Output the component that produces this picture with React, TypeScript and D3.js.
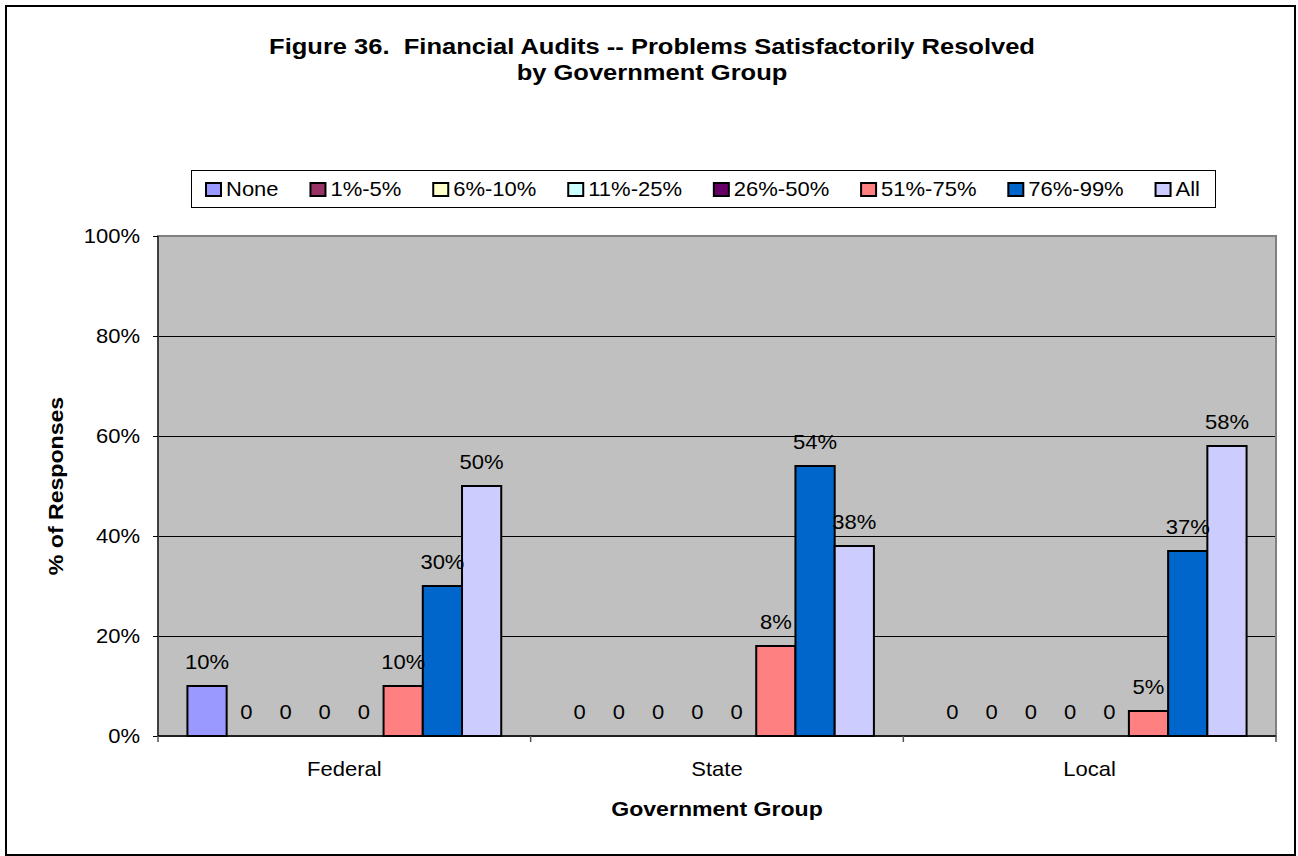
import React, { useEffect, useRef } from "react";
import * as d3 from "d3";

const titleLines = [
  "Figure 36.  Financial Audits -- Problems Satisfactorily Resolved",
  "by Government Group",
];
const categories = ["Federal", "State", "Local"];
const seriesNames = ["None", "1%-5%", "6%-10%", "11%-25%", "26%-50%", "51%-75%", "76%-99%", "All"];
const seriesColors = ["#9999FF", "#993366", "#FFFFCC", "#CCFFFF", "#660066", "#FF8080", "#0066CC", "#CCCCFF"];
const federalValues = [10, 0, 0, 0, 0, 10, 30, 50];
const stateValues = [0, 0, 0, 0, 0, 18, 54, 38];
const localValues = [0, 0, 0, 0, 0, 5, 37, 58];
const federalLabels = ["10%", "0", "0", "0", "0", "10%", "30%", "50%"];
const stateLabels = ["0", "0", "0", "0", "0", "8%", "54%", "38%"];
const localLabels = ["0", "0", "0", "0", "0", "5%", "37%", "58%"];
const yTicks = [0, 20, 40, 60, 80, 100];
const yAxisTitle = "% of Responses";
const xAxisTitle = "Government Group";

const FONT = "'Liberation Sans', Arial, Helvetica, sans-serif";
const W = 1298;
const H = 856;

export default function App() {
  const ref = useRef<SVGSVGElement | null>(null);

  useEffect(() => {
    const svg = d3.select(ref.current);
    svg.selectAll("*").remove();

    const valuesByCat = [federalValues, stateValues, localValues];
    const labelsByCat = [federalLabels, stateLabels, localLabels];

    const plot = { left: 158, right: 1276, top: 236, bottom: 736 };
    const SX = 1.1;

    const txt = (
      g: any,
      s: string,
      x: number,
      y: number,
      o: { size?: number; bold?: boolean; anchor?: string; sx?: number; rotate?: number } = {}
    ) => {
      const { size = 20, bold = false, anchor = "middle", sx = SX, rotate } = o;
      return g
        .append("text")
        .attr(
          "transform",
          `translate(${x},${y})${rotate !== undefined ? ` rotate(${rotate})` : ""} scale(${sx},1)`
        )
        .attr("text-anchor", anchor)
        .attr("font-family", FONT)
        .attr("font-size", size)
        .attr("font-weight", bold ? "bold" : "normal")
        .attr("fill", "#000")
        .style("white-space", "pre")
        .text(s);
    };

    // Background + outer border
    svg.append("rect").attr("x", 0).attr("y", 0).attr("width", W).attr("height", H).attr("fill", "#fff");
    svg
      .append("rect")
      .attr("x", 6)
      .attr("y", 6)
      .attr("width", 1289)
      .attr("height", 849)
      .attr("fill", "#fff")
      .attr("stroke", "#000")
      .attr("stroke-width", 2);

    // Title
    const titleCx = 652;
    txt(svg, titleLines[0], titleCx, 54, { size: 22, bold: true, sx: 1.16 });
    txt(svg, titleLines[1], titleCx, 80, { size: 22, bold: true, sx: 1.16 });

    // Scales
    const x0 = d3.scaleBand<string>().domain(categories).range([plot.left, plot.right]).padding(0);
    const cw = x0.bandwidth();
    const gapHalf = (cw * 0.75) / 9.5;
    const x1 = d3.scaleBand<string>().domain(seriesNames).range([gapHalf, cw - gapHalf]).padding(0);
    const y = d3.scaleLinear().domain([0, 100]).range([plot.bottom, plot.top]);

    // Plot background
    svg
      .append("rect")
      .attr("x", plot.left)
      .attr("y", plot.top)
      .attr("width", plot.right - plot.left)
      .attr("height", plot.bottom - plot.top)
      .attr("fill", "#C0C0C0");

    // Gridlines
    svg
      .append("g")
      .selectAll("line")
      .data(yTicks.filter((t) => t > 0 && t < 100))
      .join("line")
      .attr("x1", plot.left)
      .attr("x2", plot.right)
      .attr("y1", (d) => Math.round(y(d)) + 0.5)
      .attr("y2", (d) => Math.round(y(d)) + 0.5)
      .attr("stroke", "#000")
      .attr("stroke-width", 1);

    // Plot border (gray)
    svg
      .append("rect")
      .attr("x", plot.left)
      .attr("y", plot.top)
      .attr("width", plot.right - plot.left)
      .attr("height", plot.bottom - plot.top)
      .attr("fill", "none")
      .attr("stroke", "#808080")
      .attr("stroke-width", 2);

    // Bars
    const barData: { cat: string; si: number; v: number; label: string }[] = [];
    categories.forEach((c, ci) => {
      seriesNames.forEach((s, si) => {
        barData.push({ cat: c, si, v: valuesByCat[ci][si], label: labelsByCat[ci][si] });
      });
    });

    svg
      .append("g")
      .selectAll("rect")
      .data(barData.filter((d) => d.v > 0))
      .join("rect")
      .attr("x", (d) => (x0(d.cat) as number) + (x1(seriesNames[d.si]) as number))
      .attr("y", (d) => y(d.v))
      .attr("width", x1.bandwidth())
      .attr("height", (d) => y(0) - y(d.v))
      .attr("fill", (d) => seriesColors[d.si])
      .attr("stroke", "#000")
      .attr("stroke-width", 2);

    // Axes lines
    svg
      .append("line")
      .attr("x1", plot.left)
      .attr("x2", plot.left)
      .attr("y1", plot.top)
      .attr("y2", plot.bottom)
      .attr("stroke", "#000")
      .attr("stroke-width", 1);
    svg
      .append("line")
      .attr("x1", plot.left)
      .attr("x2", plot.right)
      .attr("y1", plot.bottom)
      .attr("y2", plot.bottom)
      .attr("stroke", "#000")
      .attr("stroke-width", 1.5);

    // Y ticks + labels
    yTicks.forEach((t) => {
      const yy = Math.round(y(t)) + 0.5;
      svg
        .append("line")
        .attr("x1", plot.left - 5)
        .attr("x2", plot.left)
        .attr("y1", yy)
        .attr("y2", yy)
        .attr("stroke", "#000");
      txt(svg, `${t}%`, 140, y(t) + 7, { anchor: "end" });
    });

    // X ticks (category boundaries)
    const bounds = [...categories.map((c) => x0(c) as number), plot.right];
    bounds.forEach((bx) => {
      svg
        .append("line")
        .attr("x1", bx)
        .attr("x2", bx)
        .attr("y1", plot.bottom)
        .attr("y2", plot.bottom + 6)
        .attr("stroke", "#555")
        .attr("stroke-width", 1.5);
    });

    // Category labels
    categories.forEach((c) => {
      txt(svg, c, (x0(c) as number) + cw / 2, 776);
    });

    // Data labels
    barData.forEach((d) => {
      const cx = (x0(d.cat) as number) + (x1(seriesNames[d.si]) as number) + x1.bandwidth() / 2;
      txt(svg, d.label, cx, y(d.v) - 17);
    });

    // Axis titles
    txt(svg, xAxisTitle, (plot.left + plot.right) / 2, 816, { size: 21, bold: true, sx: 1.1 });
    txt(svg, yAxisTitle, 63, (plot.top + plot.bottom) / 2, { size: 21, bold: true, sx: 1.1, rotate: -90 });

    // Legend
    const box = { x: 191, y: 170, w: 1024, h: 37 };
    const lg = svg.append("g");
    lg.append("rect")
      .attr("x", box.x + 0.5)
      .attr("y", box.y + 0.5)
      .attr("width", box.w)
      .attr("height", box.h)
      .attr("fill", "#fff")
      .attr("stroke", "#000")
      .attr("stroke-width", 1);
    const swW = 15;
    const swH = 13;
    const textOff = 20;
    const items = seriesNames.map((s, i) => {
      const t = txt(lg, s, 0, 196, { anchor: "start" });
      const w = (t.node() as SVGTextElement).getComputedTextLength() * SX;
      return { t, w, i };
    });
    const pad = 15;
    const total = items.reduce((a, it) => a + textOff + it.w, 0);
    const gap = (box.w - 2 * pad - total) / (items.length - 1);
    let cx = box.x + pad;
    items.forEach((it) => {
      lg.append("rect")
        .attr("x", cx)
        .attr("y", 183)
        .attr("width", swW)
        .attr("height", swH)
        .attr("fill", seriesColors[it.i])
        .attr("stroke", "#000")
        .attr("stroke-width", 2);
      it.t.attr("transform", `translate(${cx + textOff},196) scale(${SX},1)`);
      cx += textOff + it.w + gap;
    });
  }, []);

  return (
    <svg
      ref={ref}
      width={W}
      height={H}
      style={{ position: "absolute", left: 0, top: 0, display: "block" }}
    />
  );
}
